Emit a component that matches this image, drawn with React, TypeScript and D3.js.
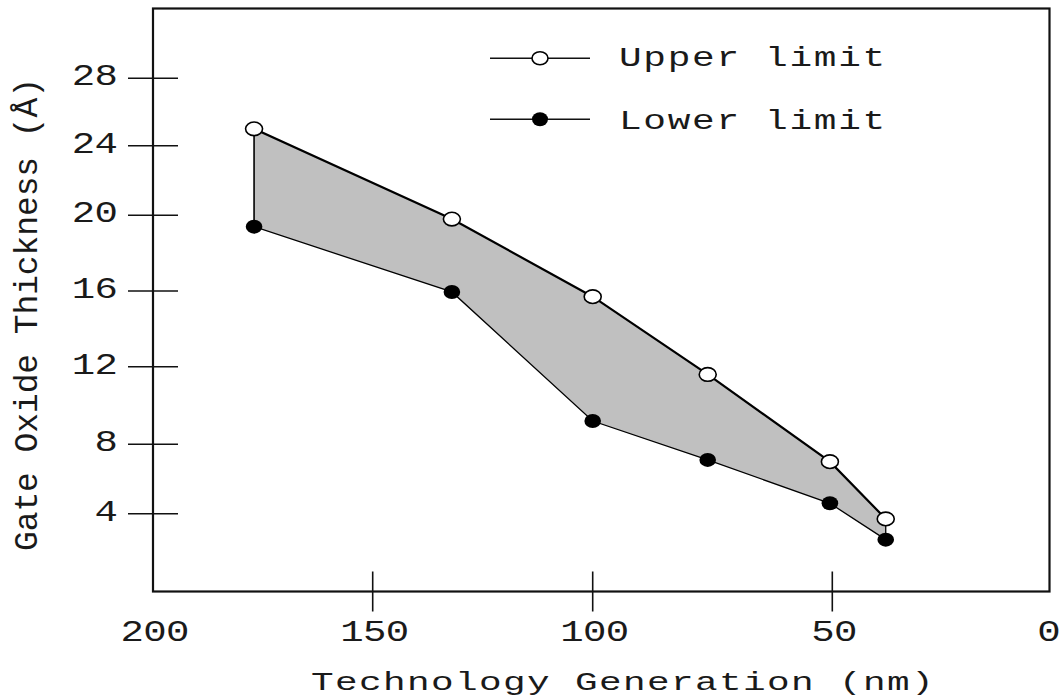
import React from "react";
import * as d3 from "d3";

// Technology node (nm) and the gate oxide thickness band (Å)
const nodes = [177, 132, 100, 76, 50.5, 37.7];
const upperLimit = [25.0, 19.8, 15.7, 11.6, 7.0, 3.7];
const lowerLimit = [19.4, 15.95, 9.2, 7.1, 4.6, 2.5];

const xTicks = [200, 150, 100, 50, 0];
const yTicks = [4, 8, 12, 16, 20, 24, 28];

const legendItems = ["Upper limit", "Lower limit"];

const W = 1060;
const H = 700;
const FONT = "'Liberation Mono', 'DejaVu Sans Mono', monospace";
const INK = "#1a1a1a";

// The original axes are slightly uneven, so both scales are polylinear
// through their tick positions.
const x = d3
  .scaleLinear()
  .domain([200, 150, 100, 50, 0])
  .range([153, 372.7, 592.7, 832.3, 1049.5]);
const y = d3
  .scaleLinear()
  .domain([-0.5, 4, 8, 12, 16, 20, 24, 28, 32.1])
  .range([591.5, 513.7, 444.3, 366.7, 291, 215.3, 145.7, 78.3, 8.5]);

type Row = { n: number; hi: number; lo: number };
const rows: Row[] = nodes.map((n, i) => ({ n, hi: upperLimit[i], lo: lowerLimit[i] }));

const band = d3
  .area<Row>()
  .x((d) => x(d.n))
  .y0((d) => y(d.lo))
  .y1((d) => y(d.hi));
const upperLine = d3
  .line<Row>()
  .x((d) => x(d.n))
  .y((d) => y(d.hi));
const lowerLine = d3
  .line<Row>()
  .x((d) => x(d.n))
  .y((d) => y(d.lo));

// Wide typewriter-style lettering: monospace glyphs stretched horizontally.
function WideText(props: {
  x: number;
  y: number;
  size: number;
  sx: number;
  ls: number;
  anchor?: "start" | "middle" | "end";
  children: React.ReactNode;
}) {
  const { x: tx, y: ty, size, sx, ls, anchor = "start", children } = props;
  // trailing letter-spacing shifts anchored text; compensate in local units
  const dx = anchor === "end" ? ls : anchor === "middle" ? ls / 2 : 0;
  return (
    <text
      transform={`translate(${tx},${ty}) scale(${sx},1)`}
      x={dx}
      y={0}
      textAnchor={anchor}
      fontFamily={FONT}
      fontSize={size}
      letterSpacing={ls}
      fill={INK}
    >
      {children}
    </text>
  );
}

export default function App() {
  const xr = x.range();
  const yr = y.range();
  const [x0, x1] = [xr[0], xr[xr.length - 1]];
  const [yb, yt] = [yr[0], yr[yr.length - 1]];
  const first = rows[0];
  const last = rows[rows.length - 1];

  return (
    <svg
      width={W}
      height={H}
      viewBox={`0 0 ${W} ${H}`}
      style={{ position: "absolute", left: 0, top: 0, background: "#fff" }}
    >
      {/* shaded band between limits */}
      <path d={band(rows) ?? ""} fill="#c0c0c0" stroke="none" />
      <line x1={x(first.n)} x2={x(first.n)} y1={y(first.hi)} y2={y(first.lo)} stroke="#000" strokeWidth={1.6} />
      <line x1={x(last.n)} x2={x(last.n)} y1={y(last.hi)} y2={y(last.lo)} stroke="#000" strokeWidth={1.3} />
      <path d={upperLine(rows) ?? ""} fill="none" stroke="#000" strokeWidth={2.2} />
      <path d={lowerLine(rows) ?? ""} fill="none" stroke="#000" strokeWidth={1.3} />

      {rows.map((d, i) => (
        <g key={i}>
          <ellipse cx={x(d.n)} cy={y(d.hi)} rx={8.5} ry={6.8} fill="#fff" stroke="#000" strokeWidth={1.6} />
          <ellipse cx={x(d.n)} cy={y(d.lo)} rx={8.3} ry={7} fill="#000" />
        </g>
      ))}

      {/* frame */}
      <rect x={x0} y={yt} width={x1 - x0} height={yb - yt} fill="none" stroke="#111" strokeWidth={2.2} />

      {/* y axis ticks */}
      {yTicks.map((t) => (
        <g key={t}>
          <line x1={x0 - 25} x2={x0 + 25} y1={y(t)} y2={y(t)} stroke="#111" strokeWidth={1.6} />
          <WideText x={x0 - 35} y={y(t) + 7} size={30} sx={1.3} ls={-0.5} anchor="end">
            {t}
          </WideText>
        </g>
      ))}

      {/* x axis ticks */}
      {xTicks.map((t) => (
        <g key={t}>
          {t !== 200 && t !== 0 && (
            <line x1={x(t)} x2={x(t)} y1={yb - 20} y2={yb + 20} stroke="#111" strokeWidth={1.6} />
          )}
          <WideText x={Math.min(x(t) + 2, W - 11)} y={641} size={30} sx={1.3} ls={-0.5} anchor="middle">
            {t}
          </WideText>
        </g>
      ))}

      {/* axis titles */}
      <WideText x={311} y={690} size={26} sx={1.45} ls={0.95}>
        Technology Generation (nm)
      </WideText>
      <text
        transform="translate(37,551) rotate(-90)"
        fontFamily={FONT}
        fontSize={33}
        letterSpacing={-0.1}
        fill={INK}
      >
        Gate Oxide Thickness (Å)
      </text>

      {/* legend */}
      {legendItems.map((label, i) => {
        const ly = i === 0 ? 58.3 : 119.3;
        return (
          <g key={label}>
            <line x1={490} x2={590} y1={ly} y2={ly} stroke="#111" strokeWidth={1.6} />
            {i === 0 ? (
              <ellipse cx={540} cy={ly} rx={8} ry={6.5} fill="#fff" stroke="#000" strokeWidth={1.6} />
            ) : (
              <ellipse cx={540} cy={ly} rx={8} ry={7} fill="#000" />
            )}
            <WideText x={619} y={i === 0 ? 65.5 : 128.5} size={27} sx={1.4} ls={1.2}>
              {label}
            </WideText>
          </g>
        );
      })}
    </svg>
  );
}
